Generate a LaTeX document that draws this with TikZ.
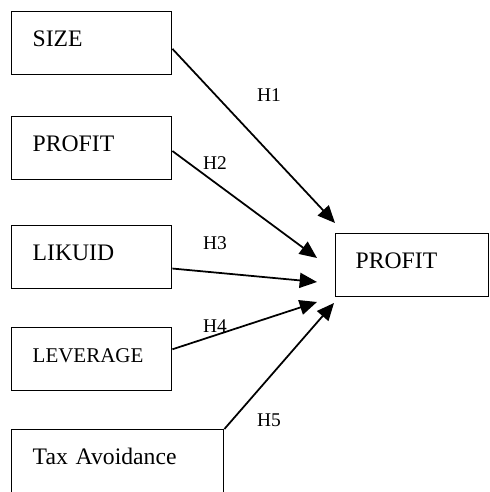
\documentclass[tikz,border=0pt]{standalone}
\usepackage{fontspec}
\setmainfont{Liberation Serif}
\usetikzlibrary{arrows.meta}

\tikzset{
  varbox/.style={draw,line width=1.2pt,anchor=north west,align=left,
    inner xsep=0.63cm,inner ysep=0pt,text height=1.03cm,text depth=0.86cm,
    font=\fontsize{20.2}{24}\selectfont},
  hlabel/.style={inner sep=0pt,font=\fontsize{16.6}{20}\selectfont},
  hyp/.style={line width=1.5pt,-{Triangle[length=0.52cm,width=0.45cm]}}
}

\begin{document}
\begin{tikzpicture}[x=1cm,y=1cm]
\clip (0,0) rectangle (14.67,14.76);
% variables on the left
\node[varbox,text width=3.54cm] (size) at (0.33,14.43) {SIZE};
\node[varbox,text width=3.54cm] (profitx) at (0.33,11.28) {PROFIT};
\node[varbox,text width=3.54cm] (likuid) at (0.33,8.01) {LIKUID};
\node[varbox,text width=3.54cm,font=\fontsize{17.9}{22}\selectfont] (leverage) at (0.33,4.95) {LEVERAGE};
\node[varbox,text width=5.10cm,text depth=1.3cm] (tax) at (0.33,1.89) {Tax Avoidance};
% dependent variable
\node[varbox,text width=3.39cm,inner xsep=0.6cm] (profity) at (10.05,7.77) {PROFIT};
% arrow tips
\coordinate (t1) at (10.05,8.07);
\coordinate (t2) at (9.51,7.02);
\coordinate (t3) at (9.51,6.30);
\coordinate (t4) at (9.51,5.70);
\coordinate (t5) at (10.02,5.67);
\draw[hyp] (size.-4) -- (t1);
\draw[hyp] (profitx.-2.5) -- (t2);
\draw[hyp] (likuid.-8) -- (t3);
\draw[hyp] (leverage.7.4) -- (t4);
\draw[hyp] (tax.north east) -- (t5);
% hypotheses
\node[hlabel] (h1) at (8.07,11.91) {H1};
\node[hlabel] (h2) at (6.45,9.87) {H2};
\node[hlabel] (h3) at (6.45,7.47) {H3};
\node[hlabel] (h4) at (6.45,4.98) {H4};
\node[hlabel] (h5) at (8.07,2.16) {H5};
\end{tikzpicture}
\end{document}
